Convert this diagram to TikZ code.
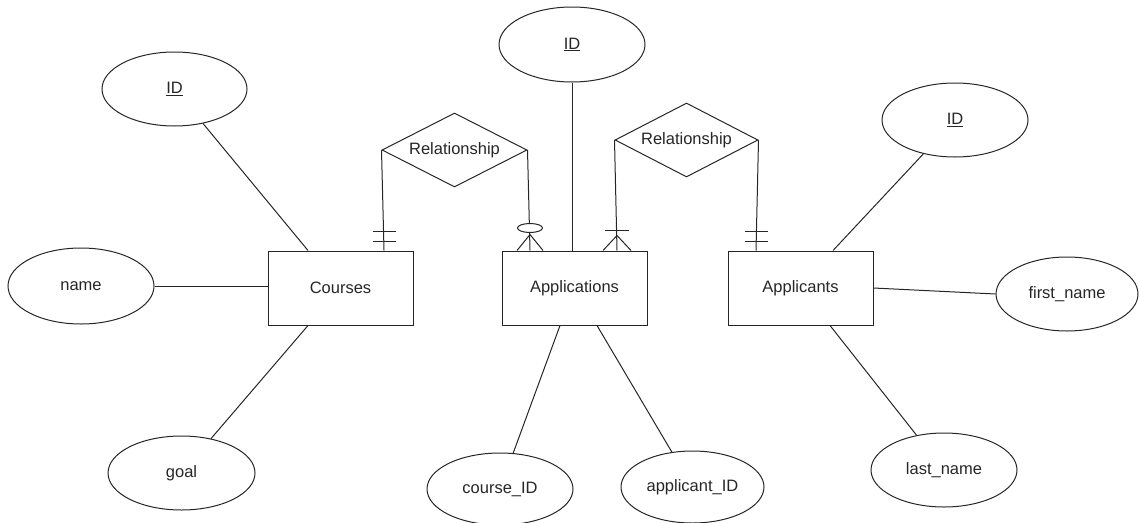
\documentclass[tikz,border=0pt]{standalone}
\usepackage{fontspec}
\setmainfont{Liberation Sans}
\usetikzlibrary{shapes.geometric}

\tikzset{
  er/.style={draw=black!85, line width=1pt, inner sep=0pt,
    font=\fontsize{16.5}{20}\selectfont, text=black!85},
  entity/.style={er, rectangle, minimum width=145, minimum height=74},
  attr/.style={er, ellipse, minimum width=146, minimum height=74},
  rel/.style={er, diamond, aspect=1.96, minimum width=145, minimum height=74},
  link/.style={draw=black!85, line width=1pt},
  mandone/.pic={
    \draw[link] (-11.5,-9) -- (11.5,-9);
    \draw[link] (-11.5,-19) -- (11.5,-19);
  },
  zeromany/.pic={
    \draw[link] (-13,0) -- (0,-16) -- (13,0);
    \draw[link, fill=white] (0,-22.5) ellipse [x radius=12.5, y radius=4.5];
  },
  onemany/.pic={
    \draw[link] (-14,0) -- (0,-15) -- (14,0);
    \draw[link] (-12,-20) -- (12,-20);
  }
}

\begin{document}
\begin{tikzpicture}[x=1pt, y=-1pt]
\useasboundingbox (0,0) rectangle (1139,522);

% entities
\node[entity] (courses)    at (340.5,288) {Courses};
\node[entity] (apps)       at (574.5,288) {Applications};
\node[entity] (applicants) at (800.5,288) {Applicants};

% relationships
\node[rel] (rel1) at (454.5,150) {Relationship};
\node[rel, minimum width=143] (rel2) at (686.5,140) {Relationship};

% attributes
\node[attr, minimum width=145] (cid)   at (174.5,89)  {\underline{ID}};
\node[attr, minimum height=76] (cname) at (81,286)    {name};
\node[attr, minimum width=147] (cgoal) at (181.5,473) {goal};
\node[attr, minimum height=75] (aid)   at (572,44.5)  {\underline{ID}};
\node[attr, minimum height=72] (courseid)    at (500,489)   {course\_ID};
\node[attr, minimum width=143, minimum height=72] (applicantid) at (692.5,487) {applicant\_ID};
\node[attr] (pid)   at (955,120)  {\underline{ID}};
\node[attr, minimum width=142] (fname) at (1067,294) {first\_name};
\node[attr] (lname) at (944,470)  {last\_name};

% attachment points on the entity borders
\coordinate (cTop)   at ([xshift=-32.5]courses.north);
\coordinate (cBot)   at ([xshift=-32.5]courses.south);
\coordinate (aBotL)  at ([xshift=-14.5]apps.south);
\coordinate (aBotR)  at ([xshift=22.5]apps.south);
\coordinate (pTop)   at ([xshift=32.5]applicants.north);
\coordinate (pBot)   at ([xshift=29.5]applicants.south);
\coordinate (e1) at ([xshift=43.5]courses.north);
\coordinate (e2) at ([xshift=-44.5]apps.north);
\coordinate (e3) at ([xshift=42.5]apps.north);
\coordinate (e4) at ([xshift=-44.5]applicants.north);

% attribute links
\draw[link] (cid) -- (cTop);
\draw[link] (cname.east) -- (cname.east -| courses.west);
\draw[link] (cgoal) -- (cBot);
\draw[link] (aid.south) -- (aid.south |- apps.north);
\draw[link] (courseid) -- (aBotL);
\draw[link] (applicantid) -- (aBotR);
\draw[link] (pid) -- (pTop);
\draw[link] (applicants.east) -- (fname.west);
\draw[link] (lname) -- (pBot);

% relationship links with cardinality marks
\draw[link] (rel1.west) -- (e1);
\draw[link] (rel1.east) -- (e2);
\draw[link] (rel2.west) -- (e3);
\draw[link] (rel2.east) -- (e4);
\pic at (e1) {mandone};
\pic at (e2) {zeromany};
\pic at (e3) {onemany};
\pic at (e4) {mandone};
\end{tikzpicture}
\end{document}
